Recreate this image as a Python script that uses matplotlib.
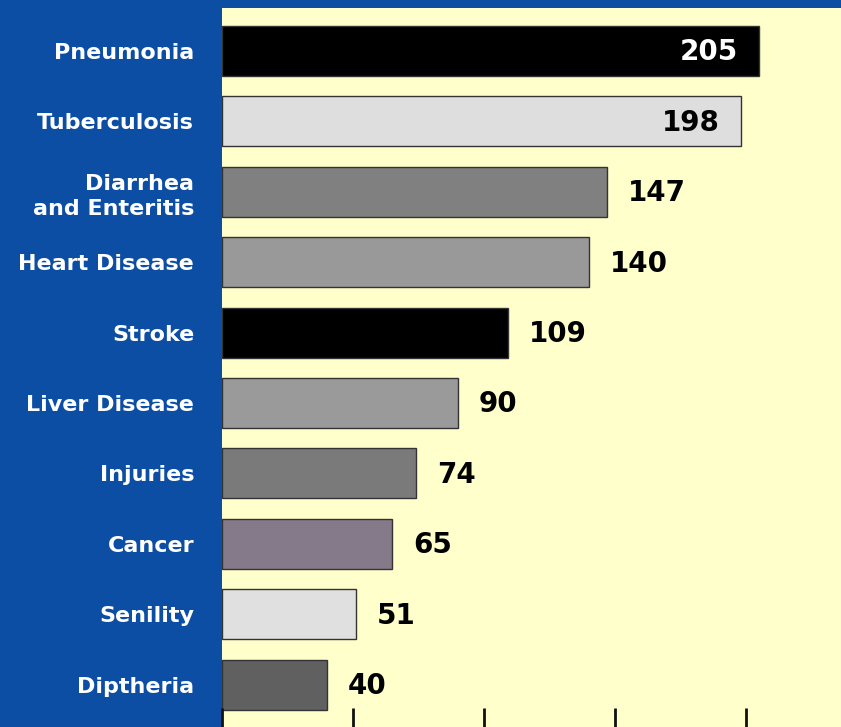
import matplotlib
matplotlib.use("Agg")
import matplotlib.pyplot as plt

causes = [
    "Pneumonia",
    "Tuberculosis",
    "Diarrhea\nand Enteritis",
    "Heart Disease",
    "Stroke",
    "Liver Disease",
    "Injuries",
    "Cancer",
    "Senility",
    "Diptheria",
]
deaths = [205, 198, 147, 140, 109, 90, 74, 65, 51, 40]
bar_colors = [
    "#000000", "#dedede", "#808080", "#999999", "#000000",
    "#9a9a9a", "#7a7a7a", "#857a8a", "#e0e0e0", "#606060",
]
x_ticks = [0, 50, 100, 150, 200]

BLUE = "#0c4ea4"
YELLOW = "#ffffcc"
W, H = 841, 727

fig = plt.figure(figsize=(W / 100, H / 100), dpi=100, facecolor=BLUE)
ax = fig.add_axes([222 / W, 0, (W - 222) / W, (H - 8) / H], facecolor=YELLOW)

y = list(range(len(causes)))
ax.barh(y, deaths, height=0.71, color=bar_colors, edgecolor="#333333", linewidth=1)

ax.set_xlim(0, (W - 222) / 2.62)
ax.set_ylim(9.6, -0.61)

# value labels: the two longest bars carry the number inside
for i, v in enumerate(deaths):
    if i < 2:
        txt_color = "white" if bar_colors[i] == "#000000" else "black"
        ax.annotate(str(v), (v, i), xytext=(-15, -1), textcoords="offset points",
                    ha="right", va="center", fontsize=20, fontweight="bold", color=txt_color)
    else:
        ax.annotate(str(v), (v, i), xytext=(15, -1), textcoords="offset points",
                    ha="left", va="center", fontsize=20, fontweight="bold", color="black")

ax.set_yticks(y)
ax.set_yticklabels(causes, fontsize=16, fontweight="bold", color="white", linespacing=1.35)
for lab in ax.get_yticklabels():
    lab.set_multialignment("right")
ax.tick_params(axis="y", length=0, pad=20)

ax.set_xticks(x_ticks)
ax.set_xticklabels([])
ax.tick_params(axis="x", direction="in", length=14, width=2, color="#111111")

for s in ax.spines.values():
    s.set_visible(False)

fig.savefig("out.png", dpi=100, facecolor=BLUE)
